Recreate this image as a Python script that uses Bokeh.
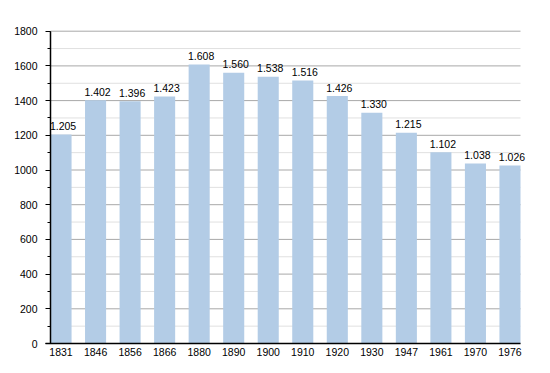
from bokeh.plotting import figure
from bokeh.models import ColumnDataSource, Range1d, FixedTicker, LabelSet
from bokeh.core.properties import value
from bokeh.embed import file_html
from bokeh.resources import INLINE

years = ["1831", "1846", "1856", "1866", "1880", "1890", "1900", "1910", "1920", "1930", "1947", "1961", "1970", "1976"]
population = [1205, 1402, 1396, 1423, 1608, 1560, 1538, 1516, 1426, 1330, 1215, 1102, 1038, 1026]
labels = [f"{v:,}".replace(",", ".") for v in population]
y_ticks = [0, 200, 400, 600, 800, 1000, 1200, 1400, 1600, 1800]
y_minor = [100, 300, 500, 700, 900, 1100, 1300, 1500, 1700]

xs = list(range(len(years)))
src = ColumnDataSource(dict(x=xs, top=population, label=labels))

FONT = "Liberation Sans"
BAR_W = 0.61
# layout (screen px)
W, H = 550, 365
AX_LEFT, AX_RIGHT = 50, 520
AX_TOP, AX_BOTTOM = 30.7, 343
Y_MAX = 1800
PX = (AX_RIGHT - AX_LEFT) / (len(years) - 1 + BAR_W)
PY = (AX_BOTTOM - AX_TOP) / Y_MAX
x_lo = -BAR_W / 2
x_hi = len(years) - 1 + BAR_W / 2

p = figure(width=W, height=H, output_backend="svg", toolbar_location=None,
           x_range=Range1d(x_lo - AX_LEFT / PX, x_hi + (W - AX_RIGHT) / PX),
           y_range=Range1d(-(H - AX_BOTTOM) / PY, Y_MAX + AX_TOP / PY),
           min_border_left=0, min_border_right=0, min_border_top=0, min_border_bottom=0)
p.outline_line_color = None
p.background_fill_color = "white"
p.border_fill_color = "white"

# grid lines limited to the plot area
p.segment(x0=[x_lo] * len(y_minor), x1=[x_hi] * len(y_minor), y0=y_minor, y1=y_minor,
          line_color="#e0e0e0", line_width=1, level="underlay")
p.segment(x0=[x_lo] * len(y_ticks), x1=[x_hi] * len(y_ticks), y0=y_ticks, y1=y_ticks,
          line_color="#a8a8a8", line_width=1, level="underlay")

p.vbar(x="x", top="top", width=BAR_W, bottom=0, source=src,
       fill_color="#b3cce6", line_color=None)

value_labels = LabelSet(x="x", y="top", text="label", source=src, text_align="center",
                        text_baseline="alphabetic", x_offset=2, y_offset=4.5,
                        text_font=value(FONT), text_font_size=value("10.5px"),
                        text_color="black", level="overlay")
p.add_layout(value_labels)

# x axis, pinned at y = 0
p.xaxis.fixed_location = 0
p.xaxis.ticker = FixedTicker(ticks=xs)
p.xaxis.major_label_overrides = {i: y for i, y in enumerate(years)}
p.xaxis.bounds = (x_lo - 5 / PX, x_hi)
p.xaxis.major_tick_out = 0
p.xaxis.major_tick_in = 0
p.xaxis.minor_tick_out = 0
p.xaxis.minor_tick_in = 0
p.xaxis.major_label_standoff = 4
p.xaxis.axis_line_color = "black"
p.xaxis.axis_line_width = 1.5
p.xaxis.major_label_text_font = FONT
p.xaxis.major_label_text_font_size = "10.5px"
p.xaxis.major_label_text_color = "black"
p.xgrid.grid_line_color = None

# y axis, pinned at the left edge of the bars
p.yaxis.fixed_location = x_lo
p.yaxis.bounds = (0, Y_MAX)
p.yaxis.ticker = FixedTicker(ticks=y_ticks, minor_ticks=y_ticks + y_minor)
p.yaxis.major_tick_out = 5
p.yaxis.major_tick_in = 0
p.yaxis.minor_tick_out = 3
p.yaxis.minor_tick_in = 0
p.yaxis.major_label_standoff = 8
p.yaxis.axis_line_color = "black"
p.yaxis.axis_line_width = 1.5
p.yaxis.major_tick_line_color = "black"
p.yaxis.minor_tick_line_color = "black"
p.yaxis.major_label_text_font = FONT
p.yaxis.major_label_text_font_size = "10.5px"
p.yaxis.major_label_text_color = "black"
p.ygrid.grid_line_color = None

open("out.html", "w").write(file_html(p, INLINE))
